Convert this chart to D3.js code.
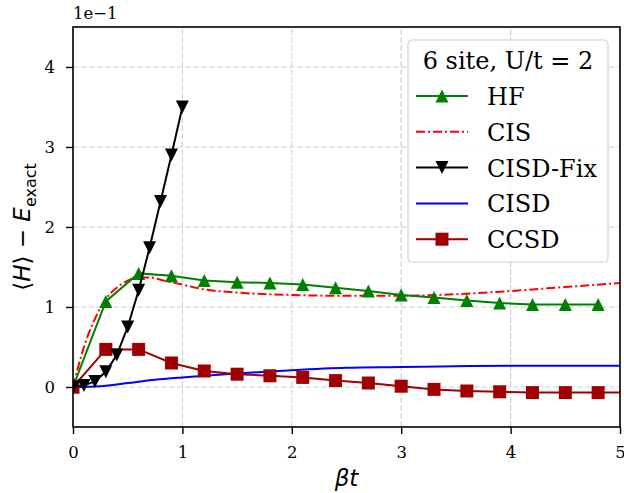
<!DOCTYPE html>
<html>
<head>
<meta charset="utf-8">
<script src="https://cdn.jsdelivr.net/npm/d3@7"></script>
<style>
  body { margin: 0; background: #fff; }
  svg { display: block; }
</style>
</head>
<body>
<div id="chart"></div>
<script>
// values in units of 1e-1
const hfX = [0, 0.3, 0.6, 0.9, 1.2, 1.5, 1.8, 2.1, 2.4, 2.7, 3.0, 3.3, 3.6, 3.9, 4.2, 4.5, 4.8];
const hfY = [0.0, 1.07, 1.42, 1.39, 1.33, 1.31, 1.30, 1.28, 1.24, 1.20, 1.15, 1.12, 1.08, 1.05, 1.03, 1.03, 1.03];

const cisX = [0, 0.1, 0.2, 0.3, 0.4, 0.5, 0.6, 0.7, 0.8, 1.0, 1.2, 1.5, 2.0, 2.5, 3.0, 3.5, 4.0, 4.5, 5.0];
const cisY = [0, 0.5, 0.85, 1.1, 1.24, 1.33, 1.37, 1.37, 1.34, 1.28, 1.22, 1.18, 1.15, 1.14, 1.14, 1.16, 1.20, 1.25, 1.30];

const fixX = [0, 0.1, 0.2, 0.3, 0.4, 0.5, 0.6, 0.7, 0.8, 0.9, 1.0];
const fixY = [0, 0.02, 0.07, 0.19, 0.40, 0.75, 1.21, 1.74, 2.32, 2.90, 3.50];

const cisdX = [0, 0.25, 0.5, 0.75, 1.0, 1.5, 2.0, 2.5, 3.0, 3.5, 4.0, 4.5, 5.0];
const cisdY = [0, 0.01, 0.05, 0.09, 0.12, 0.17, 0.21, 0.24, 0.25, 0.26, 0.265, 0.265, 0.265];

const ccsdX = [0, 0.3, 0.6, 0.9, 1.2, 1.5, 1.8, 2.1, 2.4, 2.7, 3.0, 3.3, 3.6, 3.9, 4.2, 4.5, 4.8, 5.1];
const ccsdY = [0, 0.47, 0.47, 0.30, 0.20, 0.16, 0.14, 0.12, 0.08, 0.05, 0.01, -0.03, -0.05, -0.06, -0.07, -0.07, -0.07, -0.07];

const xTicks = [0, 1, 2, 3, 4, 5];
const yTicks = [0, 1, 2, 3, 4];

const width = 624, height = 493;
const margin = { top: 27, right: 4, bottom: 66, left: 73 };

const svg = d3.select('#chart').append('svg')
  .attr('width', width)
  .attr('height', height);

const x = d3.scaleLinear().domain([0, 5]).range([margin.left, width - margin.right]);
const y = d3.scaleLinear().domain([-0.5, 4.5]).range([height - margin.bottom, margin.top]);

svg.append('defs').append('clipPath').attr('id', 'clip')
  .append('rect')
  .attr('x', margin.left).attr('y', margin.top)
  .attr('width', x(5) - x(0)).attr('height', y(-0.5) - y(4.5));

// grid
const grid = svg.append('g');
grid.selectAll('.gx').data(xTicks).join('line')
  .attr('x1', d => x(d)).attr('x2', d => x(d))
  .attr('y1', y(-0.5)).attr('y2', y(4.5))
  .attr('stroke', '#b0b0b0').attr('stroke-opacity', 0.6)
  .attr('stroke-dasharray', '5.5,2.5').attr('stroke-width', 1.2);
grid.selectAll('.gy').data(yTicks).join('line')
  .attr('y1', d => y(d)).attr('y2', d => y(d))
  .attr('x1', x(0)).attr('x2', x(5))
  .attr('stroke', '#b0b0b0').attr('stroke-opacity', 0.6)
  .attr('stroke-dasharray', '5.5,2.5').attr('stroke-width', 1.2);

const plot = svg.append('g').attr('clip-path', 'url(#clip)');

function pts(xs, ys) { return xs.map((v, i) => [v, ys[i]]); }

const lineLin = d3.line().x(d => x(d[0])).y(d => y(d[1]));
const lineSmooth = d3.line().x(d => x(d[0])).y(d => y(d[1])).curve(d3.curveMonotoneX);

const series = [
  { name: 'HF', data: pts(hfX, hfY), color: 'green', marker: 'up', gen: lineLin },
  { name: 'CIS', data: pts(cisX, cisY), color: '#ff0000', dash: '9,3,2,3', gen: lineSmooth },
  { name: 'CISD-Fix', data: pts(fixX, fixY), color: '#000000', marker: 'down', gen: lineLin },
  { name: 'CISD', data: pts(cisdX, cisdY), color: '#0000ff', gen: lineSmooth },
  { name: 'CCSD', data: pts(ccsdX, ccsdY), color: '#a00000', marker: 'square', gen: lineLin }
];

function markerPath(type) {
  const s = 6.5;
  if (type === 'up') return `M0,${-s}L${s},${s}L${-s},${s}Z`;
  if (type === 'down') return `M0,${s}L${s},${-s}L${-s},${-s}Z`;
  if (type === 'square') return `M${-s},${-s}H${s}V${s}H${-s}Z`;
  return '';
}

const drawOrder = ['CIS', 'CISD', 'HF', 'CCSD', 'CISD-Fix'];
const byName = new Map(series.map(s => [s.name, s]));
drawOrder.forEach(n => {
  const s = byName.get(n);
  plot.append('path')
    .attr('d', s.gen(s.data))
    .attr('fill', 'none')
    .attr('stroke', s.color)
    .attr('stroke-width', 2)
    .attr('stroke-dasharray', s.dash || null);
  if (s.marker) {
    plot.selectAll(null).data(s.data).join('path')
      .attr('transform', d => `translate(${x(d[0])},${y(d[1])})`)
      .attr('d', markerPath(s.marker))
      .attr('fill', s.color);
  }
});

// axes frame
svg.append('rect')
  .attr('x', x(0)).attr('y', y(4.5))
  .attr('width', x(5) - x(0)).attr('height', y(-0.5) - y(4.5))
  .attr('fill', 'none').attr('stroke', '#000').attr('stroke-width', 1.6);

const xAxis = svg.append('g')
  .attr('transform', `translate(0,${y(-0.5)})`)
  .call(d3.axisBottom(x).tickValues(xTicks).tickSize(7).tickPadding(12).tickFormat(d3.format('d')));
const yAxis = svg.append('g')
  .attr('transform', `translate(${x(0)},0)`)
  .call(d3.axisLeft(y).tickValues(yTicks).tickSize(7).tickPadding(11).tickFormat(d3.format('d')));
[xAxis, yAxis].forEach(a => {
  a.select('.domain').remove();
  a.selectAll('line').attr('stroke-width', 1.4);
  a.selectAll('text').attr('font-family', 'DejaVu Serif').attr('font-size', 16.5).attr('fill', '#000');
});

svg.append('text')
  .attr('x', x(0)).attr('y', 19)
  .attr('font-family', 'DejaVu Serif').attr('font-size', 16.5)
  .text('1e\u22121');

// axis labels
svg.append('text')
  .attr('x', (x(0) + x(5)) / 2).attr('y', 486)
  .attr('text-anchor', 'middle')
  .attr('font-family', 'DejaVu Sans').attr('font-size', 23).attr('font-style', 'italic')
  .text('\u03b2t');

const yl = svg.append('text')
  .attr('transform', `translate(30,${(y(-0.5) + y(4.5)) / 2}) rotate(-90)`)
  .attr('text-anchor', 'middle')
  .attr('font-family', 'DejaVu Sans').attr('font-size', 23);
yl.append('tspan').text('\u27e8');
yl.append('tspan').attr('font-style', 'italic').text('H');
yl.append('tspan').text('\u27e9 \u2212 ');
yl.append('tspan').attr('font-style', 'italic').text('E');
yl.append('tspan').attr('font-size', 16).attr('dy', 6).text('exact');

// legend
const lg = svg.append('g').attr('transform', 'translate(408,40)');
lg.append('rect')
  .attr('width', 200).attr('height', 222).attr('rx', 4)
  .attr('fill', '#fff').attr('fill-opacity', 0.8)
  .attr('stroke', '#d0d0d0').attr('stroke-width', 1.2);
lg.append('text')
  .attr('x', 100).attr('y', 29)
  .attr('text-anchor', 'middle')
  .attr('font-family', 'DejaVu Serif').attr('font-size', 24)
  .text('6 site, U/t = 2');
series.forEach((s, i) => {
  const cy = 56 + i * 35.8;
  lg.append('line')
    .attr('x1', 8).attr('x2', 60).attr('y1', cy).attr('y2', cy)
    .attr('stroke', s.color).attr('stroke-width', 2)
    .attr('stroke-dasharray', s.dash || null);
  if (s.marker) {
    lg.append('path')
      .attr('transform', `translate(34,${cy})`)
      .attr('d', markerPath(s.marker))
      .attr('fill', s.color);
  }
  lg.append('text')
    .attr('x', 79).attr('y', cy + 9)
    .attr('font-family', 'DejaVu Serif').attr('font-size', 24)
    .text(s.name);
});
</script>
</body>
</html>
